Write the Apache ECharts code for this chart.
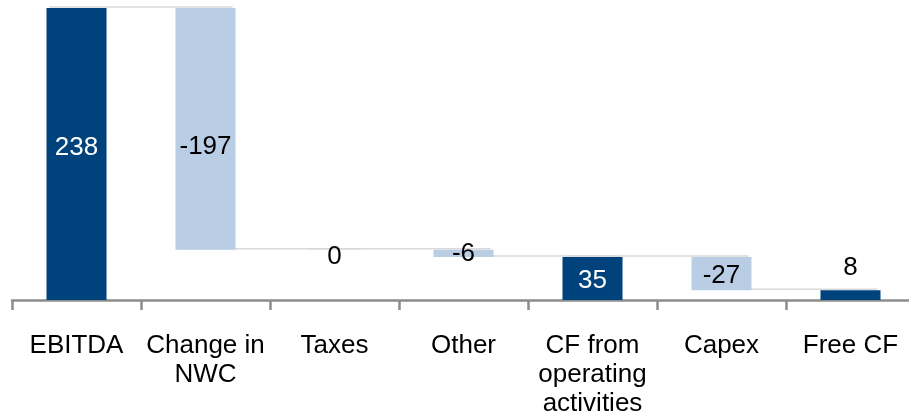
<!DOCTYPE html>
<html>
<head>
<meta charset="utf-8">
<script src="https://cdn.jsdelivr.net/npm/echarts@6/dist/echarts.min.js"></script>
<style>
  html, body { margin: 0; padding: 0; background: #fff; }
  #chart { width: 909px; height: 419px; }
</style>
</head>
<body>
<div id="chart"></div>
<script>
// Cash flow bridge: EBITDA to free cash flow
const categories = ['EBITDA', 'Change in\nNWC', 'Taxes', 'Other', 'CF from\noperating\nactivities', 'Capex', 'Free CF'];
const values = [238, -197, 0, -6, 35, -27, 8];
const isTotal = [true, false, false, false, true, false, true];

const DARK = '#00427C';
const LIGHT = '#B9CDE5';
const FONT = '"Liberation Sans", Arial, sans-serif';

// Derive invisible bases, visible heights and running levels
const bases = [];
const heights = [];
const levels = [];
let run = 0;
values.forEach((v, i) => {
  if (isTotal[i]) {
    bases.push(0);
    heights.push(v);
    run = v;
  } else {
    const end = run + v;
    bases.push(Math.min(run, end));
    heights.push(Math.abs(v));
    run = end;
  }
  levels.push(run);
});

// Per-bar label styling
const labelStyle = (i) => {
  const base = { show: true, position: 'inside', fontFamily: FONT, fontSize: 26,
                 color: isTotal[i] ? '#fff' : '#000',
                 formatter: () => String(values[i]) };
  if (i === 0) base.offset = [0, -6];
  if (i === 1) base.offset = [0, 18];
  if (i === 2) base.offset = [0, 7];
  if (i === 4) base.offset = [0, 2];
  if (i === 5) base.offset = [0, 2];
  if (i === 6) { base.position = 'top'; base.distance = 9; base.color = '#000'; }
  return base;
};

const chart = echarts.init(document.getElementById('chart'));
chart.setOption({
  animation: false,
  grid: { left: 12, width: 903, top: 8, bottom: 119, containLabel: false, outerBoundsMode: 'none' },
  xAxis: {
    type: 'category',
    data: categories,
    axisLine: { lineStyle: { color: '#8C8C8C', width: 2.5 } },
    axisTick: { show: true, length: 10, lineStyle: { color: '#8C8C8C', width: 2.5 } },
    axisLabel: { fontFamily: FONT, fontSize: 26, color: '#000', margin: 31, lineHeight: 29, interval: 0 }
  },
  yAxis: { type: 'value', min: 0, max: 238, show: false, splitLine: { show: false } },
  series: [
    {
      type: 'custom',
      z: 1,
      clip: false,
      silent: true,
      data: levels.slice(0, -1).map((lv, i) => [i, lv]),
      renderItem: (params, api) => {
        const i = api.value(0);
        const lv = api.value(1);
        const p = api.coord([i, lv]);
        const q = api.coord([i + 1, lv]);
        const half = 30;
        return {
          type: 'line',
          shape: { x1: p[0] - half + 3, y1: p[1] - 1, x2: q[0] + half - 3, y2: p[1] - 1 },
          style: { stroke: '#D9D9D9', lineWidth: 1.6 }
        };
      }
    },
    {
      type: 'bar',
      stack: 'w',
      z: 2,
      barWidth: 60,
      silent: true,
      itemStyle: { color: 'transparent' },
      data: bases
    },
    {
      type: 'bar',
      stack: 'w',
      z: 2,
      barWidth: 60,
      silent: true,
      data: heights.map((h, i) => ({
        value: h,
        itemStyle: { color: isTotal[i] ? DARK : LIGHT },
        label: labelStyle(i)
      }))
    }
  ]
});
</script>
</body>
</html>
